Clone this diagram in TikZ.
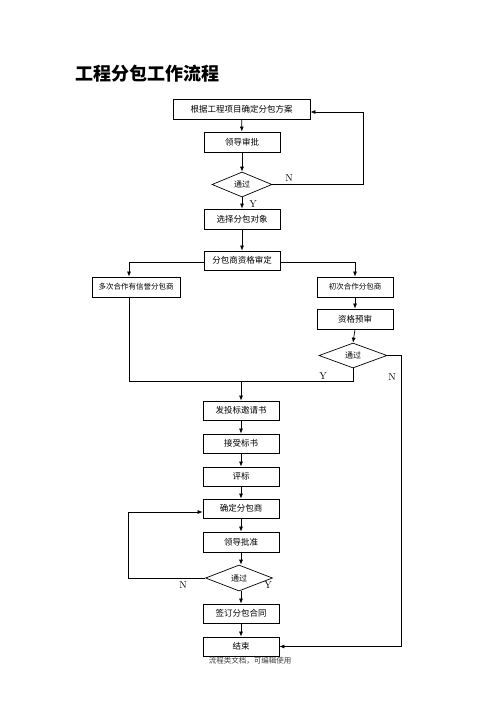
\documentclass[tikz,border=0pt]{standalone}
\usepackage{fontspec}
\newfontfamily\cjk{Noto Sans CJK SC}
\usetikzlibrary{shapes.geometric,arrows.meta}
\begin{document}
\begin{tikzpicture}[x=1pt,y=-1pt,
  box/.style={draw,line width=0.8pt,minimum height=19pt,inner sep=0pt,font=\cjk\fontsize{8.5}{9}\selectfont},
  dec/.style={draw,line width=0.7pt,diamond,inner sep=0pt,font=\cjk\fontsize{8}{9}\selectfont},
  con/.style={line width=0.7pt},
  arr/.style={con,-{Latex[length=5pt,width=4pt]}},
  lab/.style={font=\fontsize{10}{10}\selectfont,inner sep=0pt}]
\useasboundingbox (0,0) rectangle (500,707);
\fill[white] (0,0) rectangle (500,707);
\node[anchor=west,font=\cjk\bfseries\fontsize{18}{20}\selectfont,inner sep=0pt] (title) at (75,74) {工程分包工作流程};

\node[box,minimum width=137pt,minimum height=20pt] (b1) at (241.5,109) {根据工程项目确定分包方案};
\node[box,minimum width=76pt,minimum height=20pt] (b2) at (242,142) {领导审批};
\node[dec,minimum width=60pt,minimum height=25pt] (d1) at (242,184.5) {通过};
\node[box,minimum width=76pt,minimum height=20pt] (b3) at (242,219) {选择分包对象};
\node[box,minimum width=76pt] (b4) at (242,260.5) {分包商资格审定};
\node[box,minimum width=88pt,minimum height=20pt,font=\cjk\fontsize{7.5}{8}\selectfont] (l1) at (136,287) {多次合作有信誉分包商};
\node[box,minimum width=76pt,minimum height=20pt,font=\cjk\fontsize{7.5}{8}\selectfont] (r1) at (355,287) {初次合作分包商};
\node[box,minimum width=76pt,minimum height=20pt] (r2) at (355,319) {资格预审};
\node[dec,minimum width=68pt,minimum height=25pt] (d2) at (353,355.5) {通过};

\node[box,minimum width=76pt] (b5) at (241,410.5) {发投标邀请书};
\node[box,minimum width=76pt] (b6) at (241,443.5) {接受标书};
\node[box,minimum width=76pt] (b7) at (241,476.5) {评标};
\node[box,minimum width=76pt] (b8) at (241,508.5) {确定分包商};
\node[box,minimum width=76pt,minimum height=20pt] (b9) at (241,542) {领导批准};
\node[dec,minimum width=67pt,minimum height=26pt] (d3) at (239,578) {通过};
\node[box,minimum width=76pt] (b10) at (241,613.5) {签订分包合同};
\node[box,minimum width=76pt] (b11) at (241,646.5) {结束};
\node[font=\cjk\fontsize{7.5}{8}\selectfont,text=black!75,inner sep=0pt] (foot) at (250,661) {流程类文档，可编辑使用};

% top part
\draw[arr] (b1) -- (b2);
\draw[arr] (b2) -- (d1);
\draw[arr] (d1) -- (b3);
\draw[arr] (b3) -- (b4);
\coordinate (c1) at (363,184.5);
\coordinate (c2) at (363,112);
\draw[arr] (d1.east) -- (c1) -- (c2) -- (b1.east |- c2);
\node[lab] (nN1) at (289,178) {N};
\node[lab] (nY1) at (253,204) {Y};

% split
\coordinate (sl) at (129,262.5);
\coordinate (sr) at (355,262.5);
\draw[arr] (b4.west |- sl) -- (sl) -- (sl |- l1.north);
\draw[arr] (b4.east |- sr) -- (sr) -- (r1.north);
\draw[arr] (r1) -- (r2);
\draw[arr] (r2.south) -- (d2.north);

% merge
\coordinate (m1) at (129,381);
\coordinate (m2) at (353,381);
\coordinate (m3) at (241,381);
\draw[con] (l1.south -| m1) -- (m1) -- (m2) -- (d2.south);
\draw[arr] (m3) -- (b5.north);
\node[lab] (nY2) at (323,376) {Y};

% right N
\coordinate (rn1) at (401,355.5);
\coordinate (rn2) at (401,646.5);
\draw[arr] (d2.east) -- (rn1) -- (rn2) -- (b11.east);
\node[lab] (nN2) at (392,377) {N};

% lower chain
\draw[arr] (b5) -- (b6);
\draw[arr] (b6) -- (b7);
\draw[arr] (b7) -- (b8);
\draw[arr] (b8) -- (b9);
\draw[arr] (b9.south) -- (b9.south |- d3.north);
\draw[arr] (b10.north |- d3.south) -- (b10.north);
\draw[arr] (b10) -- (b11);
\coordinate (ln1) at (128,578);
\coordinate (ln2) at (128,512);
\draw[arr] (d3.west) -- (ln1) -- (ln2) -- (b8.west |- ln2);
\node[lab] (nN3) at (183,585) {N};
\node[lab] (nY3) at (268,585) {Y};
\end{tikzpicture}
\end{document}
